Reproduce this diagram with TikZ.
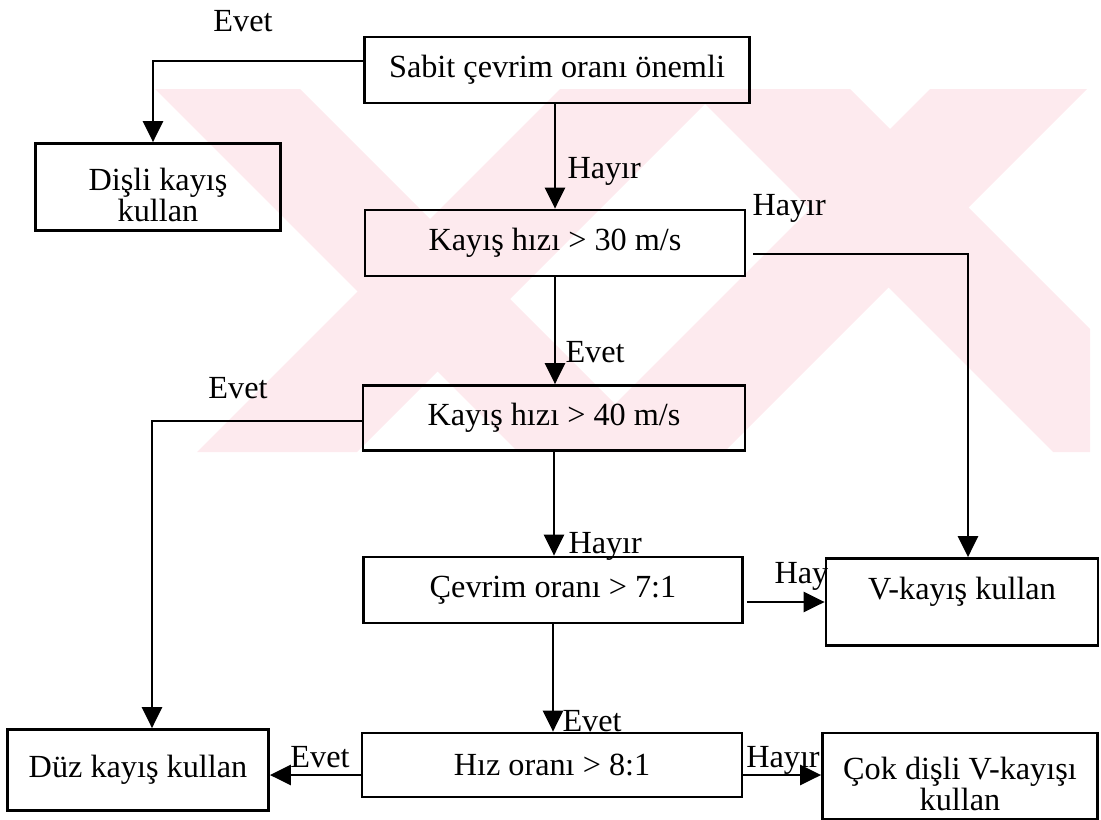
\documentclass[tikz,border=0pt]{standalone}
\usepackage{fontspec}
\setmainfont{Liberation Serif}
\usetikzlibrary{arrows.meta}
\definecolor{wmpink}{RGB}{253,234,238}

\begin{document}
\begin{tikzpicture}[x=0.4pt, y=-0.4pt,
	box/.style = {draw, line width=1.1pt, font=\fontsize{12.9}{12.4}\selectfont, inner sep=0pt, align=center},
	lbl/.style = {font=\fontsize{12.9}{12.4}\selectfont, inner sep=0pt},
	arr/.style = {line width=1.1pt, -{Triangle[length=8.4pt, width=8pt]}}]
	\useasboundingbox (0,0) rectangle (1101,820);
	% faint watermark behind the chart
	\begin{scope}
		\clip (150,89) rectangle (1090,452);
		\fill[wmpink] (155,89) -- (300,89) -- (663,452) -- (518,452) -- cycle;
		\fill[wmpink] (560,89) -- (720,89) -- (357,452) -- (197,452) -- cycle;
		\fill[wmpink] (690,89) -- (850,89) -- (1213,452) -- (1053,452) -- cycle;
		\fill[wmpink] (930,89) -- (1087,89) -- (724,452) -- (567,452) -- cycle;
	\end{scope}
	\node[box, minimum width=154pt, minimum height=26.4pt] (sabit) at (557,70) {Sabit çevrim oranı önemli};
	\node[box, minimum width=98pt, minimum height=34.8pt] (disli) at (158,187) {\rule{0pt}{15pt}Dişli kayış\\kullan};
	\node[box, minimum width=152pt, minimum height=26.4pt] (k30) at (555,243) {Kayış hızı > 30 m/s};
	\node[box, minimum width=152.8pt, minimum height=26pt] (k40) at (554,418) {Kayış hızı > 40 m/s};
	\node[box, minimum width=151.6pt, minimum height=26.4pt] (cevrim) at (553,590) {Çevrim oranı > 7:1};
	\node[box, minimum width=108.8pt, minimum height=34.8pt, text depth=11pt] (vkayis) at (962,602) {V-kayış kullan};
	\node[box, minimum width=152pt, minimum height=25.6pt] (hiz) at (552,765) {Hız oranı > 8:1};
	\node[box, minimum width=104.4pt, minimum height=32.4pt] (duz) at (138,770) {Düz kayış kullan};
	\node[box, minimum width=110pt, minimum height=34.4pt] (cok) at (960,776) {\rule{0pt}{15.5pt}Çok dişli V-kayışı\\kullan};
	% answers
	\node[lbl, anchor=base] (levet1) at (243,31) {Evet};
	\node[lbl, anchor=base west] (lhayir1) at (567,178) {Hayır};
	\node[lbl, anchor=base west] (lhayir2) at (752,215) {Hayır};
	\node[lbl, anchor=base west] (levet2) at (565,362) {Evet};
	\node[lbl, anchor=base] (levet3) at (238,398) {Evet};
	\node[lbl, anchor=base west] (lhayir3) at (568,553) {Hayır};
	\node[lbl, anchor=base west] (lhay) at (774,583) {Hay};
	\node[lbl, anchor=base west] (levet4) at (562,731) {Evet};
	\node[lbl, anchor=base] (levet5) at (320,767) {Evet};
	\node[lbl, anchor=base] (lhayir4) at (783,767) {Hayır};
	% arrows
	\draw[arr] ([yshift=3.6pt]sabit.west) -| ([xshift=-2pt]disli.north);
	\draw[arr] (sabit.south -| k30.north) -- (k30.north);
	\draw[arr] ([xshift=2.8pt,yshift=-4.4pt]k30.east) -| ([xshift=2.4pt]vkayis.north);
	\draw[arr] (k30.south) -- (k30.south |- k40.north);
	\draw[arr] ([yshift=-1.2pt]k40.west) -| ([xshift=5.6pt]duz.north);
	\draw[arr] (k40.south) -- (k40.south |- cevrim.north);
	\draw[arr] ([xshift=1.2pt,yshift=-4.8pt]cevrim.east) -- ([yshift=-4.8pt]cevrim.east -| vkayis.west);
	\draw[arr] (cevrim.south) -- (cevrim.south |- hiz.north);
	\draw[arr] ([yshift=-4pt]hiz.west) -- ([yshift=-4pt]hiz.west -| duz.east);
	\draw[arr] ([yshift=-4pt]hiz.east) -- ([yshift=-4pt]hiz.east -| cok.west);
\end{tikzpicture}
\end{document}
